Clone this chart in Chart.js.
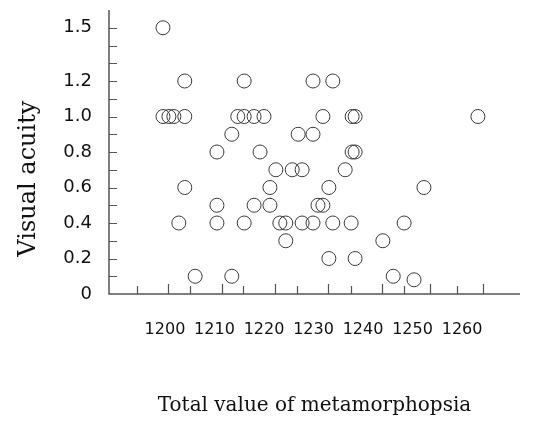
<!DOCTYPE html>
<html>
<head>
<meta charset="utf-8">
<script src="https://cdn.jsdelivr.net/npm/chart.js@4/dist/chart.umd.min.js"></script>
<style>
  html, body { margin: 0; padding: 0; background: #fff; }
  #wrap { width: 533px; height: 439px; }
</style>
</head>
<body>
<div id="wrap"><canvas id="scatterChart" width="533" height="439"></canvas></div>
<script>
// values, one entry per eye
const metamorphopsia = [
  1199.6,
  1204.0, 1216.0, 1229.9, 1233.9,
  1199.6, 1200.8, 1201.8, 1204.0, 1214.7, 1216.0, 1218.0, 1220.0, 1231.9, 1237.8, 1238.4, 1263.2,
  1213.5, 1226.9, 1229.9,
  1210.5, 1219.2, 1237.8, 1238.4,
  1222.4, 1225.7, 1227.7, 1236.4,
  1204.0, 1221.2, 1233.1, 1252.3,
  1210.5, 1218.0, 1221.2, 1230.9, 1231.9,
  1202.8, 1210.5, 1216.0, 1223.2, 1224.4, 1227.7, 1229.9, 1233.9, 1237.6, 1248.3,
  1224.4, 1244.0,
  1233.1, 1238.4,
  1206.1, 1213.5, 1246.1, 1250.3
];
const visualAcuity = [
  1.5,
  1.2, 1.2, 1.2, 1.2,
  1.0, 1.0, 1.0, 1.0, 1.0, 1.0, 1.0, 1.0, 1.0, 1.0, 1.0, 1.0,
  0.9, 0.9, 0.9,
  0.8, 0.8, 0.8, 0.8,
  0.7, 0.7, 0.7, 0.7,
  0.6, 0.6, 0.6, 0.6,
  0.5, 0.5, 0.5, 0.5, 0.5,
  0.4, 0.4, 0.4, 0.4, 0.4, 0.4, 0.4, 0.4, 0.4, 0.4,
  0.3, 0.3,
  0.2, 0.2,
  0.1, 0.1, 0.1, 0.08
];

const xTickLabels = [1200, 1210, 1220, 1230, 1240, 1250, 1260];
const yTickLabels = [0, 0.2, 0.4, 0.6, 0.8, 1.0, 1.2, 1.5];
// small tick marks along the axes (the x ones don't line up with the labels in the original)
const xTickMarks = [1194.3, 1200.6, 1205.1, 1211.5, 1215.8, 1222.2, 1226.7, 1232.9, 1237.6, 1243.8, 1248.3, 1253.5, 1259.0, 1264.2];
const yTickMarks = [0.1, 0.2, 0.3, 0.4, 0.5, 0.6, 0.7, 0.8, 0.9, 1.0, 1.1, 1.2, 1.3, 1.4, 1.5];

const yTitle = 'Visual acuity';
const xTitle = 'Total value of metamorphopsia';

const points = metamorphopsia.map((x, i) => ({ x: x, y: visualAcuity[i] }));

const axisColor = '#555';

// draws the axis lines, inward tick marks and the y title (sits lower than chart.js would centre it)
const axesPlugin = {
  id: 'axesPlugin',
  afterDraw(chart) {
    const ctx = chart.ctx;
    const xs = chart.scales.x;
    const ys = chart.scales.y;
    const x0 = xs.left;
    const y0 = ys.bottom;
    ctx.save();
    ctx.strokeStyle = axisColor;
    ctx.lineWidth = 1.5;
    ctx.beginPath();
    ctx.moveTo(x0, ys.top);
    ctx.lineTo(x0, y0);
    ctx.lineTo(xs.right, y0);
    ctx.stroke();

    ctx.lineWidth = 1.2;
    ctx.beginPath();
    yTickMarks.forEach(v => {
      const py = Math.round(ys.getPixelForValue(v)) + 0.5;
      ctx.moveTo(x0, py);
      ctx.lineTo(x0 + 8, py);
    });
    xTickMarks.forEach((v, i) => {
      const px = Math.round(xs.getPixelForValue(v)) + 0.5;
      ctx.moveTo(px, y0);
      ctx.lineTo(px, y0 - (i % 2 ? 10 : 8));
    });
    ctx.stroke();

    // y title
    ctx.translate(29, ys.getPixelForValue(0.65));
    ctx.rotate(-Math.PI / 2);
    ctx.fillStyle = '#111';
    ctx.font = '24px "DejaVu Serif"';
    ctx.textAlign = 'center';
    ctx.textBaseline = 'middle';
    ctx.fillText(yTitle, 0, 0);
    ctx.restore();
  }
};

const ctx = document.getElementById('scatterChart').getContext('2d');

const chart = new Chart(ctx, {
  type: 'scatter',
  data: {
    datasets: [{
      label: yTitle,
      data: points,
      pointStyle: 'circle',
      pointRadius: 7,
      pointBorderWidth: 1,
      borderColor: '#3a3a3a',
      backgroundColor: 'rgba(0,0,0,0)'
    }]
  },
  options: {
    responsive: false,
    animation: false,
    layout: { padding: { top: 10, right: 13, left: 0, bottom: 0 } },
    plugins: {
      legend: { display: false },
      tooltip: { enabled: false }
    },
    scales: {
      x: {
        type: 'linear',
        min: 1188.7,
        max: 1271.7,
        grid: { display: false, drawTicks: false },
        border: { display: false },
        afterBuildTicks: s => { s.ticks = xTickLabels.map(v => ({ value: v })); },
        afterFit: s => { s.height = 145; s.paddingLeft = 0; s.paddingRight = 0; },
        ticks: {
          autoSkip: false,
          maxRotation: 0,
          padding: 26,
          color: '#111',
          font: { family: 'DejaVu Sans', size: 16 },
          callback: v => String(v)
        },
        title: {
          display: true,
          text: xTitle,
          color: '#111',
          font: { family: 'DejaVu Serif', size: 20 },
          padding: { top: 0, bottom: 21 }
        }
      },
      y: {
        type: 'linear',
        min: 0,
        max: 1.6,
        grid: { display: false, drawTicks: false },
        border: { display: false },
        afterBuildTicks: s => { s.ticks = yTickLabels.map(v => ({ value: v })); },
        afterFit: s => { s.width = 109; s.paddingTop = 0; s.paddingBottom = 0; },
        ticks: {
          autoSkip: false,
          padding: 17,
          color: '#111',
          font: { family: 'DejaVu Sans', size: 18 },
          callback: v => (v === 0 ? '0' : v.toFixed(1))
        }
      }
    }
  },
  plugins: [axesPlugin]
});
</script>
</body>
</html>
